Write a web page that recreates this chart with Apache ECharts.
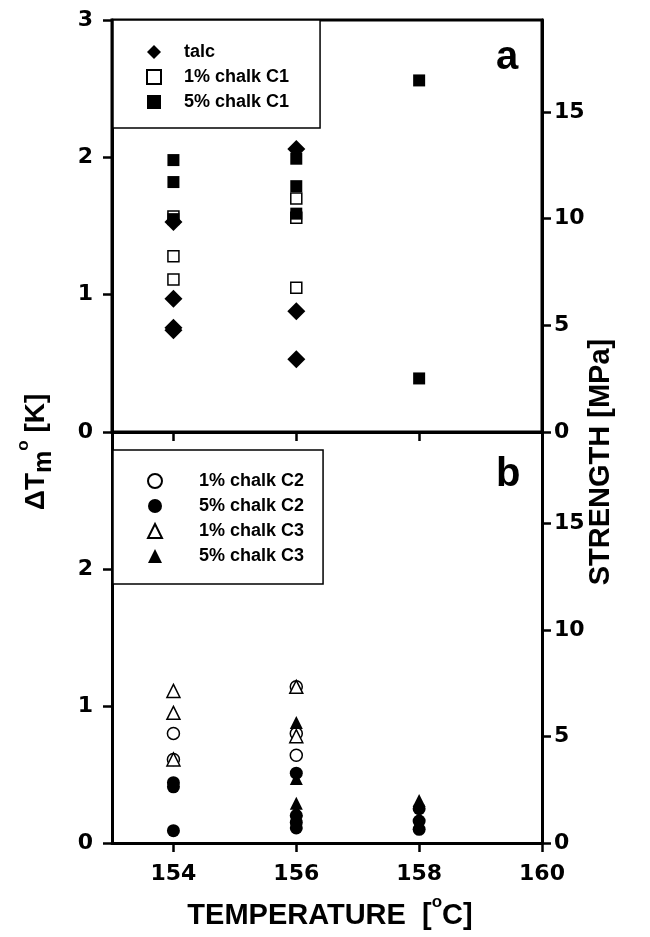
<!DOCTYPE html>
<html>
<head>
<meta charset="utf-8">
<script src="https://cdn.jsdelivr.net/npm/echarts@6/dist/echarts.min.js"></script>
<style>
  html, body { margin: 0; padding: 0; background: #fff; }
  #chart { width: 650px; height: 937px; }
</style>
</head>
<body>
<div id="chart"></div>
<script>
// panel a: [temperature, dTm]
const talc = [[154, 1.53], [154, 0.97], [154, 0.76], [154, 0.74], [156, 2.06], [156, 0.88], [156, 0.53]]
const chalk1C1 = [[154, 1.57], [154, 1.28], [154, 1.11], [156, 1.70], [156, 1.56], [156, 1.05]]
const chalk5C1 = [[154, 1.98], [154, 1.82], [154, 1.55], [156, 1.99], [156, 1.79], [156, 1.59], [158, 2.56], [158, 0.39]]

// panel b
const chalk1C2 = [[154, 0.80], [154, 0.61], [156, 1.14], [156, 0.80], [156, 0.64]]
const chalk5C2 = [[154, 0.44], [154, 0.41], [154, 0.09], [156, 0.51], [156, 0.20], [156, 0.15], [156, 0.11], [158, 0.25], [158, 0.16], [158, 0.10]]
const chalk1C3 = [[154, 1.11], [154, 0.95], [154, 0.61], [156, 1.14], [156, 0.78]]
const chalk5C3 = [[156, 0.88], [156, 0.47], [156, 0.29], [156, 0.24], [158, 0.31]]

const tempTicks = [154, 156, 158, 160]
const dtTicks = [0, 1, 2, 3]
const strengthTicks = [0, 5, 10, 15]

const NUM_FONT = 'DejaVu Sans'
const TXT_FONT = 'Liberation Sans'

const chart = echarts.init(document.getElementById('chart'), null, { renderer: 'canvas' })

const tickLabel = { color: '#000', fontFamily: NUM_FONT, fontWeight: 'bold', fontSize: 22 }
const line = { lineStyle: { color: '#000', width: 3 } }
const tick = (values) => ({ show: true, inside: false, length: 9, customValues: values, lineStyle: { color: '#000', width: 2.5 } })

function xAxis(gridIndex, showLabels) {
  return {
    type: 'value', gridIndex, min: 153, max: 160,
    axisLine: { show: true, ...line },
    axisTick: tick(tempTicks),
    axisLabel: showLabels ? { ...tickLabel, customValues: tempTicks, margin: 20 } : { show: false },
    splitLine: { show: false },
  }
}

function leftAxis(gridIndex, labels) {
  return {
    type: 'value', gridIndex, position: 'left', min: 0, max: 3, interval: 1,
    axisLine: { show: true, ...line },
    axisTick: tick(dtTicks),
    axisLabel: { ...tickLabel, customValues: labels, margin: 19 },
    splitLine: { show: false },
  }
}

function rightAxis(gridIndex) {
  return {
    type: 'value', gridIndex, position: 'right', min: 0, max: 19.3,
    axisLine: { show: true, ...line },
    axisTick: tick(strengthTicks),
    axisLabel: { ...tickLabel, customValues: strengthTicks, margin: 12 },
    splitLine: { show: false },
  }
}

const open = { color: '#fff', borderColor: '#000', borderWidth: 1.5, opacity: 1 }
const filled = { color: '#000', borderColor: '#000', borderWidth: 0, opacity: 1 }

function scatter(name, data, grid, symbol, size, style) {
  return {
    type: 'scatter', name, data,
    xAxisIndex: grid, yAxisIndex: grid * 2,
    symbol, symbolSize: size,
    itemStyle: style,
    emphasis: { disabled: true },
  }
}

function legend(names, top, padding, textPad) {
  return {
    data: names,
    orient: 'vertical',
    left: 113, top,
    padding,
    itemWidth: 14, itemHeight: 14, itemGap: 7,
    backgroundColor: '#fff',
    borderColor: '#000', borderWidth: 1.5,
    selectedMode: false,
    textStyle: { color: '#000', fontFamily: TXT_FONT, fontWeight: 'bold', fontSize: 18, width: 112, padding: [0, 0, 0, textPad] },
  }
}

const titleFont = { fill: '#000', fontFamily: TXT_FONT, fontWeight: 'bold' }

chart.setOption({
  animation: false,
  backgroundColor: '#fff',
  grid: [
    { left: 112, right: 108, top: 20, height: 412, show: true, borderColor: '#000', borderWidth: 3, backgroundColor: 'transparent' },
    { left: 112, right: 108, top: 432, height: 411 },
  ],
  xAxis: [xAxis(0, false), xAxis(1, true)],
  yAxis: [leftAxis(0, dtTicks), rightAxis(0), leftAxis(1, [0, 1, 2]), rightAxis(1)],
  legend: [
    legend(['talc', '1% chalk C1', '5% chalk C1'], 20, [23, 31, 17, 33], 18),
    legend(['1% chalk C2', '5% chalk C2', '1% chalk C3', '5% chalk C3'], 450, [22, 19, 19, 34], 32),
  ],
  series: [
    scatter('talc', talc, 0, 'diamond', [18, 18], filled),
    scatter('1% chalk C1', chalk1C1, 0, 'rect', 11, open),
    scatter('5% chalk C1', chalk5C1, 0, 'rect', 12, filled),
    scatter('1% chalk C2', chalk1C2, 1, 'circle', 12, open),
    scatter('5% chalk C2', chalk5C2, 1, 'circle', 13, filled),
    scatter('1% chalk C3', chalk1C3, 1, 'triangle', 13, open),
    scatter('5% chalk C3', chalk5C3, 1, 'triangle', 13, filled),
  ],
  graphic: [
    { type: 'text', left: 496, top: 38, style: { ...titleFont, text: 'a', fontSize: 40 } },
    { type: 'text', left: 496, top: 455, style: { ...titleFont, text: 'b', fontSize: 40 } },
    {
      type: 'text', x: 330, y: 912,
      style: {
        ...titleFont, fontSize: 29, align: 'center', verticalAlign: 'middle',
        text: '{n|TEMPERATURE  [}{sup|o}{n|C]}',
        rich: {
          n: { fontFamily: TXT_FONT, fontWeight: 'bold', fontSize: 29, lineHeight: 36, verticalAlign: 'bottom' },
          sup: { fontFamily: TXT_FONT, fontWeight: 'bold', fontSize: 17, lineHeight: 36, verticalAlign: 'top' },
        },
      },
    },
    {
      type: 'text', x: 601, y: 462, rotation: Math.PI / 2,
      style: { ...titleFont, fontSize: 29, align: 'center', verticalAlign: 'middle', text: 'STRENGTH [MPa]' },
    },
    {
      type: 'text', x: 36, y: 452, rotation: Math.PI / 2,
      style: {
        ...titleFont, fontSize: 28, align: 'center', verticalAlign: 'middle',
        text: '{n|ΔT}{sub|m}{sup|o}{n| [K]}',
        rich: {
          n: { fontFamily: TXT_FONT, fontWeight: 'bold', fontSize: 28, lineHeight: 42 },
          sub: { fontFamily: TXT_FONT, fontWeight: 'bold', fontSize: 25, lineHeight: 42, verticalAlign: 'bottom' },
          sup: { fontFamily: TXT_FONT, fontWeight: 'bold', fontSize: 17, lineHeight: 42, verticalAlign: 'top' },
        },
      },
    },
  ],
})
</script>
</body>
</html>
